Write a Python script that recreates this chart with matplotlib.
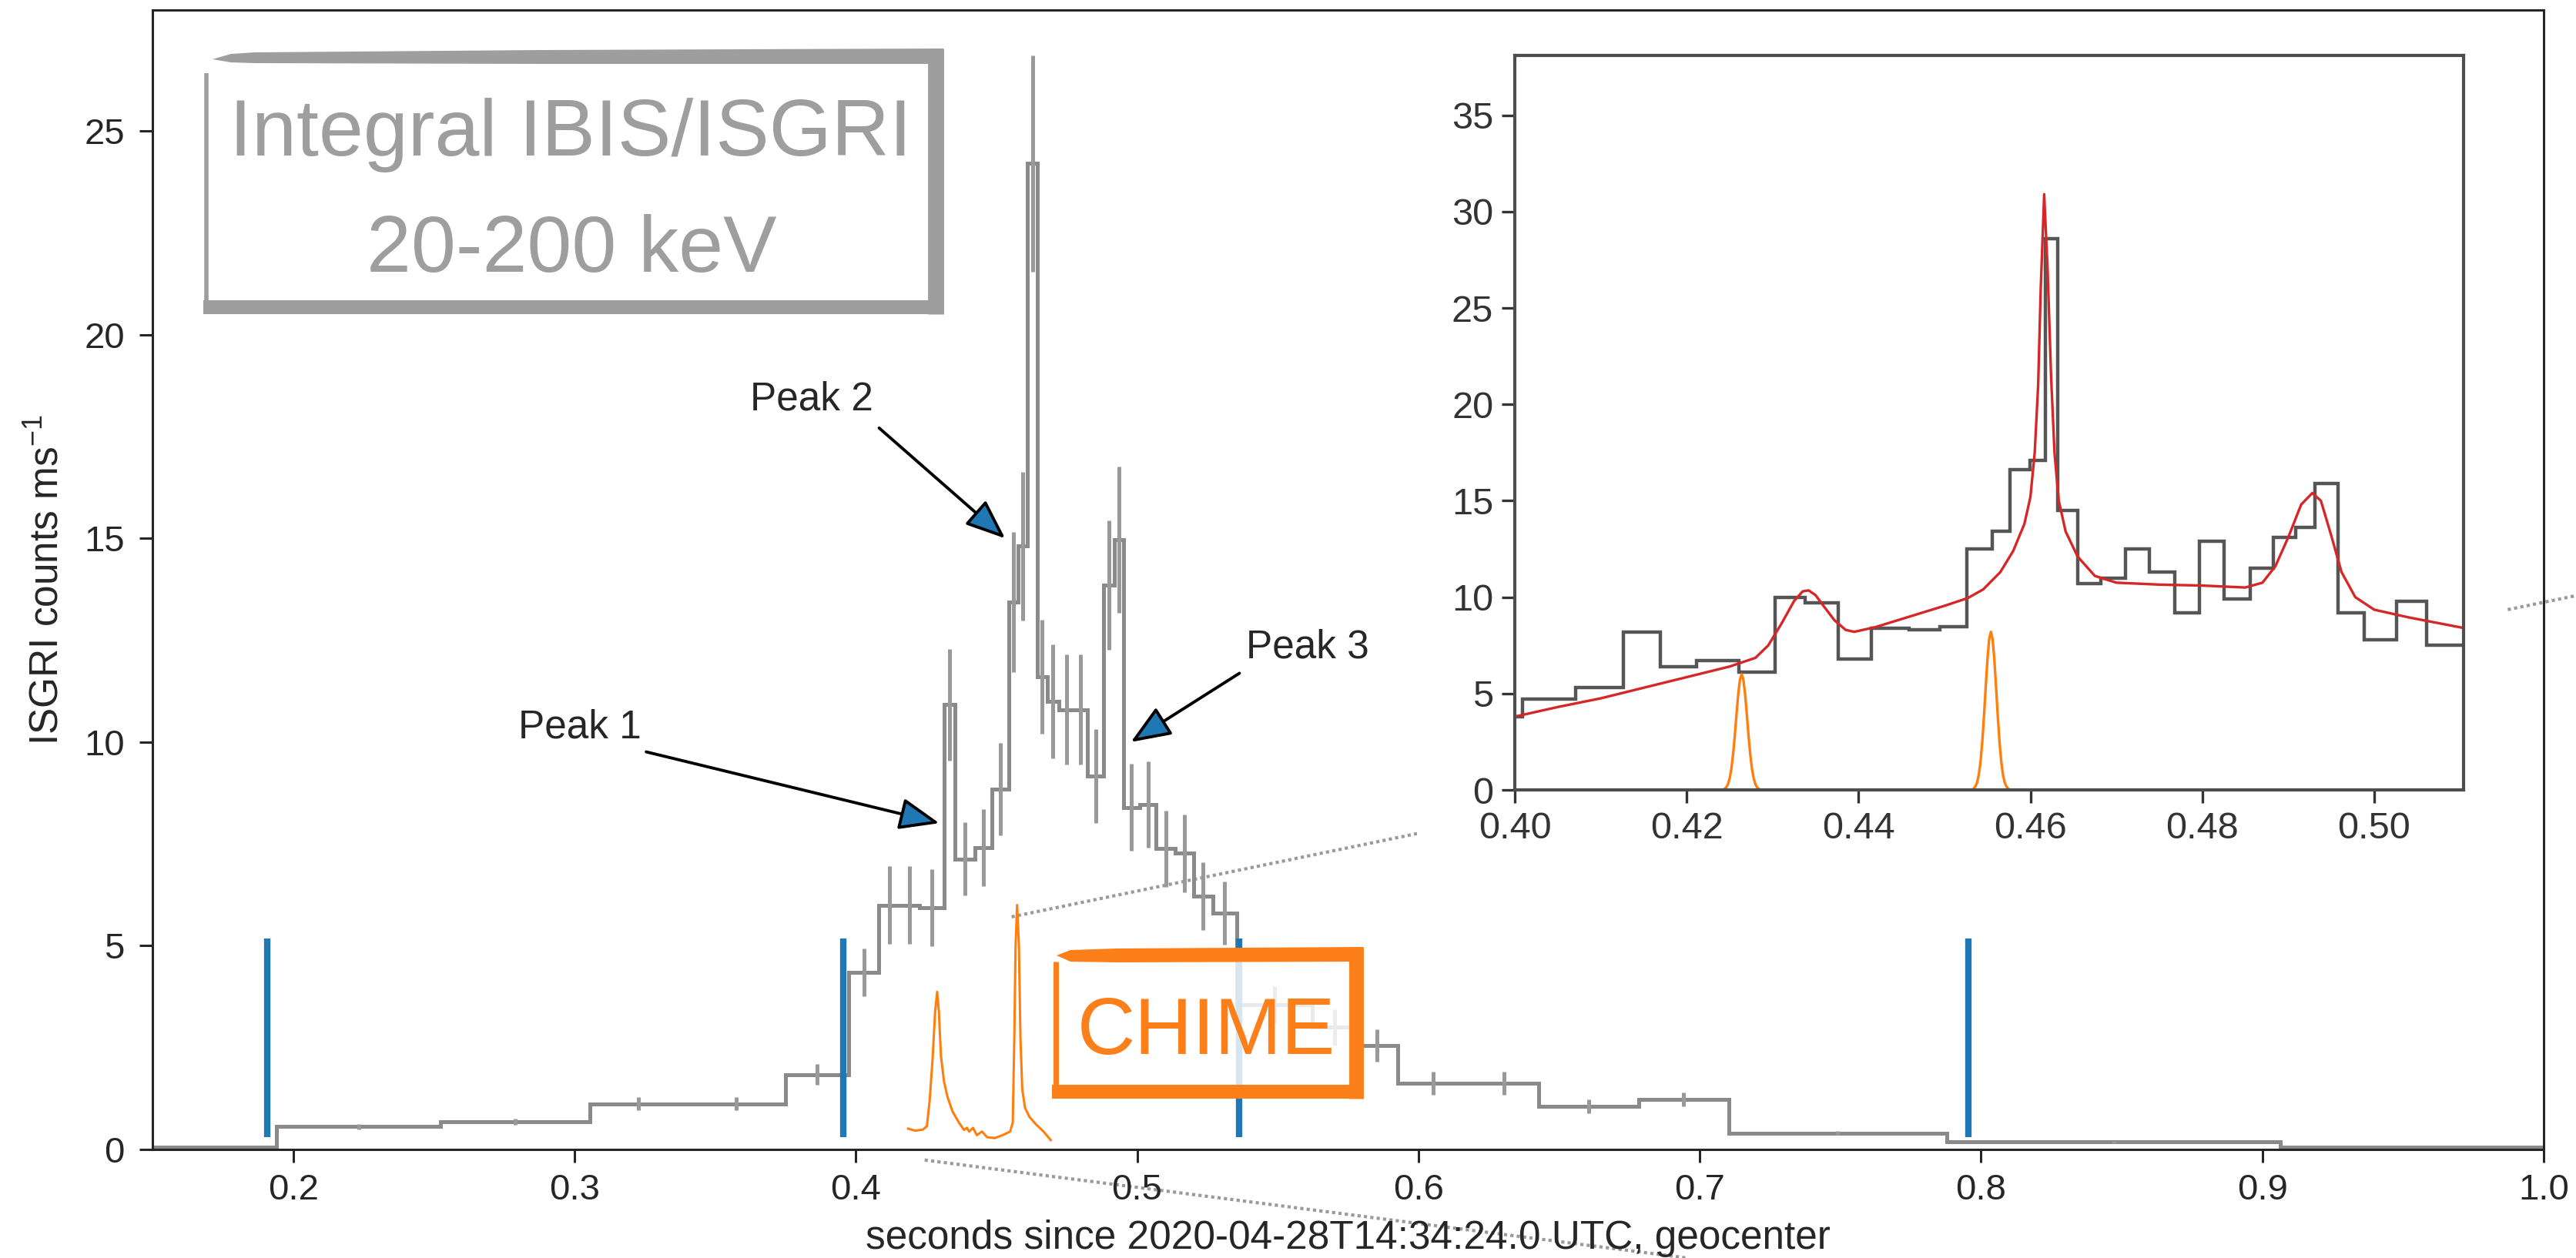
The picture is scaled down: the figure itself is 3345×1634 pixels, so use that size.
import numpy as np
import matplotlib
matplotlib.use("Agg")
import matplotlib.pyplot as plt
from matplotlib.patches import Rectangle, Polygon

plt.rcParams['font.family'] = ['Liberation Sans', 'DejaVu Sans']
plt.rcParams['mathtext.default'] = 'regular'

# ISGRI 20-200 keV light curve (block edges in s, counts/ms, 1 sigma)
isgri_edges = [0.150, 0.1942, 0.2525, 0.3056, 0.3400, 0.3749, 0.3976, 0.4082, 0.4156, 0.4226,
               0.4315, 0.4352, 0.4424, 0.4485, 0.4543, 0.4577, 0.4611, 0.4646, 0.4680, 0.4723,
               0.4775, 0.4824, 0.4882, 0.4918, 0.4951, 0.5009, 0.5068, 0.5135, 0.5200, 0.5269,
               0.5355, 0.5624, 0.5780, 0.5926, 0.6180, 0.6427, 0.6784, 0.7103, 0.7879, 0.9065, 1.000]
isgri_rate = [0.05, 0.56, 0.68, 1.12, 1.12, 1.84, 4.35, 6.00, 6.00, 5.93,
              10.92, 7.13, 7.41, 8.85, 13.43, 14.81, 24.20, 11.60, 11.00, 10.80,
              10.80, 9.17, 13.85, 14.97, 8.40, 8.46, 7.38, 7.27, 6.22, 5.80,
              3.55, 3.00, 2.55, 1.62, 1.62, 1.06, 1.23, 0.40, 0.18, 0.05]
isgri_err = [0.0, 0.07, 0.07, 0.16, 0.16, 0.26, 0.58, 0.95, 0.95, 0.95,
             1.37, 0.90, 0.95, 1.13, 1.72, 1.83, 2.65, 1.40, 1.40, 1.35,
             1.35, 1.15, 1.59, 1.80, 1.06, 1.06, 0.94, 0.96, 0.83, 0.78,
             0.45, 0.44, 0.39, 0.28, 0.28, 0.17, 0.17, 0.05, 0.03, 0.0]

# blue markers
marks_t = [0.1907, 0.3956, 0.5363, 0.7954]
marks_lo, marks_hi = 0.31, 5.17

# CHIME radio profile (arbitrary scale)
chime_t = [0.41862, 0.42118, 0.42391, 0.42528, 0.42628, 0.42737, 0.42820, 0.42893, 0.42956, 0.43029,
           0.43139, 0.43257, 0.43440, 0.43667, 0.43850, 0.43950, 0.44032, 0.44169, 0.44305, 0.44488,
           0.44670, 0.44943, 0.45216, 0.45490, 0.45581, 0.45636, 0.45681, 0.45736, 0.45800, 0.45854,
           0.45918, 0.46018, 0.46173, 0.46401, 0.46674, 0.46930]
chime_flux = [0.51, 0.46, 0.49, 0.57, 1.21, 2.29, 3.37, 3.87, 3.37, 2.29,
              1.66, 1.30, 0.93, 0.66, 0.48, 0.53, 0.44, 0.53, 0.35, 0.44,
              0.30, 0.28, 0.35, 0.44, 0.66, 2.74, 5.00, 6.00, 5.00, 2.74,
              1.48, 1.02, 0.80, 0.62, 0.44, 0.23]

# inset: finer ISGRI binning
inset_edges = [0.3970, 0.40088, 0.40706, 0.41262, 0.41695, 0.42118, 0.42604, 0.43027, 0.43380, 0.43760,
               0.44148, 0.44590, 0.44943, 0.45260, 0.45560, 0.45763, 0.45993, 0.46178, 0.46320, 0.46549,
               0.46823, 0.47105, 0.47387, 0.47679, 0.47970, 0.48252, 0.48561, 0.48826, 0.49091, 0.49312,
               0.49576, 0.49885, 0.50256, 0.50609, 0.51400]
inset_rate = [3.8, 4.73, 5.3, 8.2, 6.4, 6.7, 6.1, 10.0, 9.7, 6.8,
              8.4, 8.3, 8.45, 12.5, 13.4, 16.6, 17.1, 28.6, 14.5, 10.7,
              11.0, 12.5, 11.3, 9.2, 12.9, 9.9, 11.5, 13.1, 13.6, 15.9,
              9.2, 7.8, 9.8, 7.5]

# model fit
fit_t = [0.4000, 0.4050, 0.4100, 0.4150, 0.4200, 0.4250, 0.4280, 0.4295, 0.4310, 0.4325,
         0.4335, 0.4342, 0.4350, 0.4360, 0.4372, 0.4385, 0.4395, 0.4420, 0.4460, 0.4500,
         0.4527, 0.4545, 0.4565, 0.4580, 0.4593, 0.4600, 0.4605, 0.4609, 0.4612, 0.4616,
         0.4620, 0.4624, 0.4628, 0.4633, 0.4641, 0.4655, 0.4675, 0.4700, 0.4750, 0.4800,
         0.4850, 0.4870, 0.4885, 0.4900, 0.4915, 0.4928, 0.4938, 0.4950, 0.4962, 0.4978,
         0.5000, 0.5040, 0.5104]
fit_rate = [3.80, 4.30, 4.75, 5.30, 5.85, 6.40, 6.85, 7.50, 8.60, 9.80,
            10.30, 10.35, 10.10, 9.50, 8.80, 8.30, 8.20, 8.45, 9.00, 9.55,
            9.95, 10.40, 11.30, 12.40, 13.80, 15.20, 17.50, 21.00, 26.00, 30.90,
            27.00, 21.50, 17.50, 15.00, 13.40, 12.10, 11.10, 10.75, 10.65, 10.60,
            10.50, 10.75, 11.60, 13.10, 14.80, 15.40, 15.00, 13.20, 11.30, 10.00,
            9.35, 8.95, 8.40]

# CHIME pulses in inset
g1_t = [0.4244, 0.4246, 0.4248, 0.4250, 0.4252, 0.4254, 0.4256, 0.4258, 0.4260, 0.4262, 0.4264,
        0.4266, 0.4268, 0.4270, 0.4272, 0.4274, 0.4276, 0.4278, 0.4280, 0.4282, 0.4284]
g1_v = [0.05, 0.13, 0.29, 0.59, 1.09, 1.84, 2.81, 3.92, 4.96, 5.72, 6.00,
        5.72, 4.96, 3.92, 2.81, 1.84, 1.09, 0.59, 0.29, 0.13, 0.05]
g2_t = [0.4534, 0.4536, 0.4538, 0.4540, 0.4542, 0.4544, 0.4546, 0.4548, 0.4550, 0.4552, 0.4554,
        0.4556, 0.4558, 0.4560, 0.4562, 0.4564, 0.4566, 0.4568, 0.4570, 0.4572, 0.4574]
g2_v = [0.07, 0.18, 0.39, 0.80, 1.49, 2.51, 3.85, 5.35, 6.78, 7.82, 8.20,
        7.82, 6.78, 5.35, 3.85, 2.51, 1.49, 0.80, 0.39, 0.18, 0.07]

# peak labels: text position, arrow tail, arrow tip (data coords)
peak_names = ['Peak 1', 'Peak 2', 'Peak 3']
peak_text = [(0.302, 10.36), (0.3843, 18.4), (0.5607, 12.33)]
peak_tail = [(0.3255, 9.76), (0.4083, 17.71), (0.5364, 11.69)]
peak_tip = [(0.4297, 8.01), (0.4531, 15.0), (0.4978, 10.0)]

# dotted zoom connectors (main data coords)
conn_a = ([0.4554, 1.0112], [5.71, 13.59])
conn_b = ([0.4245, 0.6950], [-0.26, -2.66])

fig = plt.figure(figsize=(16.725, 8.17), dpi=200)
ax = fig.add_axes([0.05919, 0.08629, 0.92825, 0.90575])

ax.stairs(isgri_rate, isgri_edges, baseline=None, color='#8a8a8a', lw=1.8, zorder=2)
centers = 0.5 * (np.array(isgri_edges[:-1]) + np.array(isgri_edges[1:]))
ax.errorbar(centers, isgri_rate, yerr=isgri_err, fmt='none', ecolor='#999999',
            elinewidth=1.8, capsize=0, zorder=2)
ax.vlines(marks_t, marks_lo, marks_hi, color='#1f77b4', lw=3, zorder=3)
ax.plot(chime_t, chime_flux, color='#ff7f0e', lw=1.1, zorder=3)

for name, xyt, tail, tip in zip(peak_names, peak_text, peak_tail, peak_tip):
    ax.text(xyt[0], xyt[1], name, fontsize=18.5, color='#262626', ha='center', va='center')
    ax.annotate('', xy=tip, xytext=tail,
                arrowprops=dict(arrowstyle='-|>,head_length=0.8,head_width=0.32',
                                mutation_scale=20, lw=1.4, fc='#1f77b4', ec='black',
                                shrinkA=0, shrinkB=0))

dot = dict(color='#9a9a9a', lw=1.5, ls=(0, (1, 1)), clip_on=False, zorder=1)
ax.plot(conn_a[0], conn_a[1], **dot)
ax.plot(conn_b[0], conn_b[1], **dot)

ax.set_xlim(0.15, 1.0)
ax.set_ylim(0, 27.97)
ax.set_xticks([0.2, 0.3, 0.4, 0.5, 0.6, 0.7, 0.8, 0.9, 1.0])
ax.set_yticks([0, 5, 10, 15, 20, 25])
ax.tick_params(direction='out', length=6, width=1.1, colors='#262626', labelsize=17)
ax.tick_params(axis='x', pad=5)
ax.tick_params(axis='y', pad=7)
for s in ax.spines.values():
    s.set_color('#262626')
    s.set_linewidth(1.1)
ax.set_xlabel('seconds since 2020-04-28T14:34:24.0 UTC, geocenter', fontsize=18.5, color='#262626', labelpad=6)
ax.set_ylabel('ISGRI counts ms$^{-1}$', fontsize=18.5, color='#262626', labelpad=8)

# hand-drawn label boxes (axes fraction)
grey = '#9e9e9e'
orange = '#fd7f1a'
ax.add_patch(Rectangle((0.0225, 0.7392), 0.3049, 0.2203, transform=ax.transAxes,
                       fc='white', ec='none', alpha=0.82, zorder=5))
ax.add_patch(Polygon([(0.02512, 0.95676), (0.03285, 0.96149), (0.04283, 0.96284), (0.16167, 0.96486),
                      (0.33076, 0.96622), (0.33076, 0.95270), (0.16167, 0.95270), (0.04283, 0.95338),
                      (0.03285, 0.95405)], closed=True, transform=ax.transAxes,
                     fc=grey, ec='none', clip_on=False, zorder=6))
ax.plot([0.32738, 0.32738], [0.96622, 0.73311], transform=ax.transAxes, color=grey, lw=7.5,
        solid_capstyle='butt', clip_on=False, zorder=6)
ax.plot([0.02126, 0.33076], [0.73919, 0.73919], transform=ax.transAxes, color=grey, lw=6.5,
        solid_capstyle='butt', clip_on=False, zorder=6)
ax.plot([0.02254, 0.02254], [0.94459, 0.74189], transform=ax.transAxes, color=grey, lw=2,
        solid_capstyle='butt', clip_on=False, zorder=6)
ax.text(0.17488, 0.8725, 'Integral IBIS/ISGRI', transform=ax.transAxes, fontsize=37.5,
        color=grey, ha='center', va='baseline', zorder=7)
ax.text(0.17520, 0.77047, '20-200 keV', transform=ax.transAxes, fontsize=37.5,
        color=grey, ha='center', va='baseline', zorder=7)

ax.add_patch(Rectangle((0.37778, 0.05068), 0.12560, 0.12027, transform=ax.transAxes,
                       fc='white', ec='none', alpha=0.82, zorder=5))
ax.add_patch(Polygon([(0.37810, 0.17027), (0.38390, 0.17500), (0.40322, 0.17635), (0.50628, 0.17770),
                      (0.50628, 0.16486), (0.40322, 0.16419), (0.38390, 0.16486)], closed=True,
                     transform=ax.transAxes, fc=orange, ec='none', clip_on=False, zorder=6))
ax.plot([0.50338, 0.50338], [0.17770, 0.04459], transform=ax.transAxes, color=orange, lw=6.8,
        solid_capstyle='butt', clip_on=False, zorder=6)
ax.plot([0.37617, 0.50628], [0.05068, 0.05068], transform=ax.transAxes, color=orange, lw=6.5,
        solid_capstyle='butt', clip_on=False, zorder=6)
ax.plot([0.37778, 0.37778], [0.16486, 0.05608], transform=ax.transAxes, color=orange, lw=2.5,
        solid_capstyle='butt', clip_on=False, zorder=6)
ax.text(0.44058, 0.08378, 'CHIME', transform=ax.transAxes, fontsize=37.5, color=orange,
        ha='center', va='baseline', zorder=7)

# white backing of the inset panel (hides connector behind it)
fig.add_artist(Rectangle((0.5501, 0.3207), 0.4224, 0.6658, transform=fig.transFigure,
                         fc='white', ec='none', zorder=1))

axin = fig.add_axes([0.58804, 0.37209, 0.36831, 0.58384], zorder=3)
axin.stairs(inset_rate, inset_edges, baseline=None, color='#555555', lw=1.6)
axin.plot(fit_t, fit_rate, color='#d62728', lw=1.2)
axin.plot(g1_t, g1_v, color='#ff7f0e', lw=1.2)
axin.plot(g2_t, g2_v, color='#ff7f0e', lw=1.2)
axin.set_xlim(0.40, 0.5104)
axin.set_ylim(0, 38.1)
axin.set_xticks([0.40, 0.42, 0.44, 0.46, 0.48, 0.50])
axin.set_yticks([0, 5, 10, 15, 20, 25, 30, 35])
axin.tick_params(direction='out', length=6, width=1.2, colors='#333333', labelsize=17.5, pad=4)
for s in axin.spines.values():
    s.set_color('#4d4d4d')
    s.set_linewidth(1.5)

fig.savefig('out.png', dpi=200)
